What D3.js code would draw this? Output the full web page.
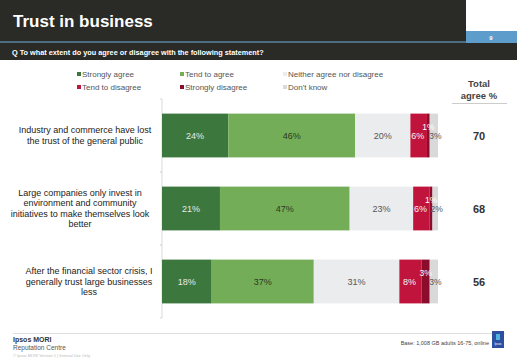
<!DOCTYPE html>
<html><head><meta charset="utf-8">
<script src="https://cdn.jsdelivr.net/npm/d3@7"></script>
<style>body{margin:0;background:#fff;}svg{display:block;font-family:"Liberation Sans",Arial,sans-serif;}</style>
</head><body>
<script>
const categories = [
  ["Industry and commerce have lost", "the trust of the general public"],
  ["Large companies only invest in", "environment and community", "initiatives to make themselves look", "better"],
  ["After the financial sector crisis, I", "generally trust large businesses", "less"]
];
const seriesNames = ["Strongly agree", "Tend to agree", "Neither agree nor disagree", "Tend to disagree", "Strongly disagree", "Don't know"];
const stronglyAgree = [24, 21, 18];
const tendToAgree = [46, 47, 37];
const neither = [20, 23, 31];
const tendToDisagree = [6, 6, 8];
const stronglyDisagree = [1, 1, 3];
const dontKnow = [3, 2, 3];
const totalAgree = [70, 68, 56];
const colors = ["#3c783e", "#74ad58", "#ebecee", "#c0143c", "#8c0c2c", "#d9d9d9"];
const labelColors = ["#e8e8e8", "#2a3a22", "#555", "#f2f2f2", "#fff", "#555"];

const W = 517, H = 358;
const svg = d3.select("body").append("svg").attr("width", W).attr("height", H);

// Header
svg.append("rect").attr("x", 0).attr("y", 0).attr("width", 466).attr("height", 43).attr("fill", "#2a2a26");
svg.append("rect").attr("x", 466).attr("y", 31).attr("width", 51).attr("height", 12).attr("fill", "#5e9ccb");
svg.append("rect").attr("x", 0).attr("y", 41).attr("width", 466).attr("height", 2).attr("fill", "#4d6b82");
svg.append("rect").attr("x", 0).attr("y", 43).attr("width", W).attr("height", 17).attr("fill", "#2a2a26");
svg.append("text").attr("x", 13).attr("y", 27).attr("fill", "#fff").attr("font-size", 17).attr("font-weight", "bold").text("Trust in business");
svg.append("text").attr("x", 491).attr("y", 40).attr("fill", "#fff").attr("font-size", 6).attr("font-weight", "bold").attr("text-anchor", "middle").text("9");
svg.append("text").attr("x", 12).attr("y", 55).attr("fill", "#fff").attr("font-size", 7.3).attr("font-weight", "bold").text("Q To what extent do you  agree or disagree with the following statement?");

// Data rows
const rows = categories.map((c, i) => ({
  idx: i,
  "Strongly agree": stronglyAgree[i],
  "Tend to agree": tendToAgree[i],
  "Neither agree nor disagree": neither[i],
  "Tend to disagree": tendToDisagree[i],
  "Strongly disagree": stronglyDisagree[i],
  "Don't know": dontKnow[i]
}));
const stacked = d3.stack().keys(seriesNames)(rows);

const x = d3.scaleLinear().domain([0, 100]).range([162, 438]);
const y = d3.scaleBand().domain(d3.range(categories.length)).range([99, 318]).paddingInner(0.4).paddingOuter(0.2);
const yAxisBand = d3.scaleBand().domain(d3.range(categories.length)).range([99, 318]);

// Axis
const ax = svg.append("g").attr("transform", "translate(162,0)")
  .call(d3.axisLeft(yAxisBand).tickSize(0).tickFormat(""));
ax.select(".domain").attr("stroke", "#d9d9d9").attr("d", "M-2,99H0V318H-2");
[1, 2].forEach(k => {
  svg.append("line").attr("x1", 160).attr("x2", 162).attr("y1", 99 + 73 * k).attr("y2", 99 + 73 * k).attr("stroke", "#ccc");
});

// Bars
stacked.forEach((s, si) => {
  svg.append("g").selectAll("rect").data(s).join("rect")
    .attr("x", d => x(d[0]))
    .attr("y", (d, i) => y(i))
    .attr("width", d => x(d[1]) - x(d[0]))
    .attr("height", y.bandwidth())
    .attr("fill", colors[si]);
});

// Segment labels
stacked.forEach((s, si) => {
  svg.append("g").selectAll("text").data(s).join("text")
    .attr("x", d => {
      const cx = (x(d[0]) + x(d[1])) / 2;
      if (si === 5) return cx + 1.5;
      if (si === 3) return cx - 1;
      return cx;
    })
    .attr("y", (d, i) => {
      const cy = y(i) + y.bandwidth() / 2 + 3.5;
      if (si === 4) return cy - 9.5;
      return cy;
    })
    .attr("text-anchor", "middle")
    .attr("font-size", si >= 4 ? 8.5 : 9)
    .attr("fill", labelColors[si])
    .text(d => (d[1] - d[0]) + "%");
});

// Legend
const legendPos = [[77, 77], [180, 77], [283, 77], [77, 90], [180, 90], [283, 90]];
seriesNames.forEach((n, i) => {
  const [lx, ly] = legendPos[i];
  svg.append("rect").attr("x", lx).attr("y", ly - 5).attr("width", 4).attr("height", 4).attr("fill", colors[i]);
  svg.append("text").attr("x", lx + 5).attr("y", ly).attr("font-size", 8).attr("fill", "#555").text(n);
});

// Total agree
svg.append("text").attr("x", 479).attr("y", 87).attr("font-size", 9.5).attr("font-weight", "bold").attr("fill", "#444").attr("text-anchor", "middle").text("Total");
svg.append("text").attr("x", 479).attr("y", 99).attr("font-size", 9.5).attr("font-weight", "bold").attr("fill", "#444").attr("text-anchor", "middle").text("agree %");
svg.append("line").attr("x1", 452).attr("x2", 507).attr("y1", 103.5).attr("y2", 103.5).attr("stroke", "#ccc");
svg.append("g").selectAll("text").data(totalAgree).join("text")
  .attr("x", 479).attr("y", (d, i) => y(i) + y.bandwidth() / 2 + 4)
  .attr("text-anchor", "middle").attr("font-size", 11).attr("font-weight", "bold").attr("fill", "#333")
  .text(d => d);

// Category labels
const catX = [85, 80, 89];
categories.forEach((lines, i) => {
  const lh = 10.5;
  const cy = y(i) + y.bandwidth() / 2;
  const start = cy - (lines.length - 1) * lh / 2 + 3;
  const t = svg.append("text").attr("text-anchor", "middle").attr("font-size", 9).attr("fill", "#222");
  lines.forEach((l, j) => t.append("tspan").attr("x", catX[i]).attr("y", start + j * lh).text(l));
});

// Footer
svg.append("line").attr("x1", 13).attr("x2", 505).attr("y1", 333.5).attr("y2", 333.5).attr("stroke", "#e0e0e0");
svg.append("text").attr("x", 13).attr("y", 342).attr("font-size", 7).attr("font-weight", "bold").attr("fill", "#333").text("Ipsos MORI");
svg.append("text").attr("x", 13).attr("y", 350).attr("font-size", 6.5).attr("fill", "#555").text("Reputation Centre");
svg.append("text").attr("x", 13).attr("y", 356.5).attr("font-size", 4).attr("fill", "#bbb").text("© Ipsos MORI     Version 1 | Internal Use Only");
svg.append("text").attr("x", 489).attr("y", 345).attr("font-size", 5.5).attr("fill", "#444").attr("text-anchor", "end").text("Base: 1,008 GB adults 16-75, online");
svg.append("rect").attr("x", 492).attr("y", 331).attr("width", 12).attr("height", 17).attr("fill", "#2d4fa0");
svg.append("rect").attr("x", 496).attr("y", 334).attr("width", 4).attr("height", 6).attr("fill", "#4fb3e0");
svg.append("text").attr("x", 498).attr("y", 345).attr("font-size", 3).attr("fill", "#fff").attr("text-anchor", "middle").text("Ipsos");
</script>
</body></html>
